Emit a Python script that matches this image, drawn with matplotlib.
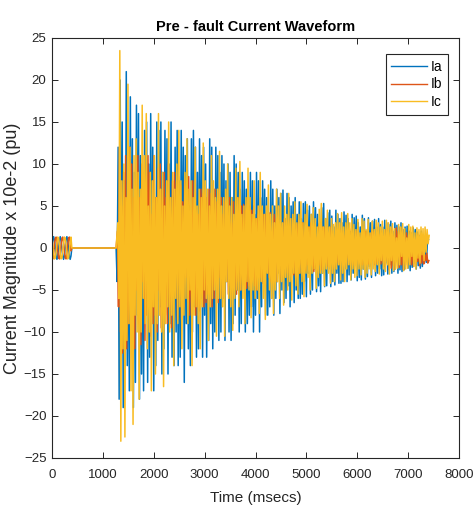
import numpy as np
import matplotlib
matplotlib.use("Agg")
import matplotlib.pyplot as plt

plt.rcParams['font.family'] = ['Liberation Sans', 'DejaVu Sans']

# ---- pre-fault steady state (0 - 390 ms), three phases ----
t_pre = [0, 16, 32, 48, 65, 81, 97, 113, 130, 146, 162, 178, 195,
         211, 227, 243, 260, 276, 292, 308, 325, 341, 357, 373, 390]
ia_pre = [0.0, 0.95, 1.35, 0.95, 0.0, -0.95, -1.35, -0.95, 0.0, 0.95, 1.35, 0.95, 0.0,
          -0.95, -1.35, -0.95, 0.0, 0.95, 1.35, 0.95, 0.0, -0.95, -1.35, -0.95, 0.0]
ib_pre = [-1.17, -1.3, -0.68, 0.35, 1.17, 1.3, 0.68, -0.35, -1.17, -1.3, -0.68, 0.35, 1.17,
          1.3, 0.68, -0.35, -1.17, -1.3, -0.68, 0.35, 1.17, 1.3, 0.68, -0.35, 0.0]
ic_pre = [1.17, 0.35, -0.68, -1.3, -1.17, -0.35, 0.68, 1.3, 1.17, 0.35, -0.68, -1.3, -1.17,
          -0.35, 0.68, 1.3, 1.17, 0.35, -0.68, -1.3, -1.17, -0.35, 0.68, 1.3, 0.0]

# ---- de-energised interval ----
t_gap = [1260]
gap_val = [0.0]

# ---- fault transient, one sample every 20 ms per phase ----
fault_step = 20
fault_start = {'Ia': 1280, 'Ib': 1287, 'Ic': 1293}

ia_fault = [
    -4, 12, -18, 20, -9, 15, -19, 8, -12, 21, -14, 6, -17, 18, -10, 13, -19, 9, -16, 17,
    -8, 16, -18, 11, -15, 7, -17, 14, -6, 15, -16, 10, -13, 16, -9, 12, -17, 6, -14, 15,
    -11, 14, -7, 15, -15, 9, -12, 14, -5, 13, -15, 10, -9, 15, -13, 6, -14, 12, -10, 14,
    -14, 8, -13, 14, -6, 12, -16, 11, -9, 13, -12, 5, -14, 13, -10, 14, -7, 12, -13, 9,
    -12, 13, -6, 11, -13, 12, -8, 10, -13, 5, -11, 13, -9, 12, -12, 7, -10, 12, -5, 11,
    -11, 9, -10, 11, -6, 10, -11, 8, -4, 10, -10, 9, -11, 6, -9, 11, -8, 10, -5, 9,
    -10, 7, -9, 9, -4, 8, -10, 7, -9, 5, -8, 9, -7, 8, -10, 4, -8, 9, -6, 8,
    -10, 6, -7, 8, -4, 7, -8, 6, -8, 3, -7, 8, -6, 7, -8, 5, -6, 7, -3, 6,
    -7.8, 6.5, -5, 6.9, -6.5, 3.5, -6, 6.5, -4.5, 6, -7, 5, -3, 5.5, -6.5, 6, -5, 4, -6, 5.5,
    -6, 3.5, -5.5, 5.3, -4, 5.5, -5.8, 4.5, -3, 5, -5.5, 4, -5, 5.5, -2.5, 4.8, -5.2, 4, -4.5, 3,
    -5.2, 4.8, -3, 5.3, -4.6, 3.5, -4.5, 4.2, -2.5, 4.5, -4.6, 3.8, -4, 2.5, -4.4, 4.5, -3, 4, -4.2, 3.5,
    -4.2, 3, -4, 4.3, -2.5, 3.9, -4, 3.5, -3.2, 2, -3.8, 4, -3, 3.6, -1.8, 3.8, -3.9, 3, -3.5, 2.5,
    -3.8, 3.9, -2.5, 3.5, -3.7, 2, -3.4, 3.6, -2.2, 3, -3.5, 3.2, -1.5, 3.4, -3.3, 2.5, -3, 3.5, -2.5, 2.8,
    -3.3, 2.5, -3.2, 3.3, -1.8, 3, -3.1, 2.8, -2, 3.2, -3, 2, -2.8, 3, -1.5, 2.7, -3, 2.5, -2.6, 3,
    -2.8, 2.2, -2.6, 2.5, -1.5, 2.6, -2.4, 2, -2.7, 1.8, -2.3, 2.4, -1.2, 2.2, -2.5, 1.9, -2.1, 1.5, -2.4, 2,
    -2.2, 1.5, -1.8, 1.2, -1.7, 0.8, 1.0,
]

ib_fault = [
    2, -7, 12, -10, 5, -12.5, 9, -6, 11, -12, 4, -9, 12, -8, 10, -11, 6, -12, 8, -5,
    11, -9, 6, -11.5, 10, -4, 9, -11, 7, -8, 11, -6, 9, -10.5, 4, -9, 11, -8, 6, -10,
    9.5, -5, 10, -9.5, 7, -4, 9, -8, 6, -9, 10, -7, 4, -9.5, 8, -6, 9, -3, 8, -8.5,
    8.5, -4.5, 7.5, -8.5, 5.5, -7, 8, -3.5, 7, -6.5, 8.5, -8, 4, -7.5, 8, -5, 6.5, -8, 3, -7,
    4, -7.5, 7, -5, 6.5, -7, 3, -6.5, 6, -5.5, 7, -3.5, 6.5, -7, 4.5, -6, 7, -2.5, 5.5, -6.5,
    6.5, -3.5, 6, -5.8, 4, -6, 5.5, -2.5, 5, -5.5, 6, -4.5, 3, -6, 5.5, -5, 2.5, -5.5, 6, -4,
    3.5, -5, 5, -4, 5.2, -2.5, 4.5, -4.8, 3, -4.5, 5, -3.5, 4.5, -2, 5, -4.5, 3.5, -5, 4, -2.5,
    4.5, -3.5, 2.5, -4.2, 4, -3, 4, -2, 3.8, -3.5, 4.2, -4, 2, -3.8, 4, -2.5, 3.5, -4, 3, -1.8,
    3, -3.8, 2, -3.5, 3.5, -1.5, 3.2, -3, 2.5, -3.3, 3.5, -2.5, 1.5, -3.2, 3, -3.5, 2.8, -1.8, 3.3, -3,
    3, -2, 3, -2.8, 1.5, -2.7, 2.8, -2, 2.5, -2.5, 3, -1.2, 2.6, -2.8, 2, -2.5, 1.2, -2.6, 2.8, -2,
    1.5, -2.6, 2.5, -2, 2.4, -1.2, 2.3, -2.2, 1.8, -2.3, 2.5, -1.5, 2, -2.4, 1, -2.2, 2.3, -1.8, 2.1, -2,
    2.2, -1, 2, -2.1, 1.5, -2, 2.2, -1.2, 2, -1.8, 2.3, -2, 0.8, -2.1, 2, -1.5, 2.2, -1.9, 1.2, -2,
    1.2, -2, 1.9, -1.5, 2, -1, 1.8, -1.9, 1.4, -1.6, 2.1, -1.2, 1.9, -2, 0.9, -1.8, 2, -1.5, 1.6, -1.9,
    2, -1.7, 1.2, -2.2, 2.1, -1.5, 2.3, -2.6, 1.8, -2.4, 2.2, -2.1, 1.5, -2.5, 2.4, -1.2, 2, -2.3, 1.9, -2,
    2.1, -2.6, 1.5, -2, 1.8, -1.2, 1.5, -1.8, 0.8, -2, 1.2, -2.2, 0.5, -1.9, 1, -1.6, 0.6, -2.1, 0.4, -1.8,
    0.5, -1.9, -0.8, -1.5, -0.6, -1.8, -1.5,
]

ic_fault = [
    3, -6, 23.5, -23, 8, -12, 10, -22.5, 6, -11, 19.5, -9, 12, -17, 7, -21, 11, -8, 13, -10,
    9, -18, 7, -10, 17, -6, 11, -9, 16, -12, 5, -10, 9, -17, 8, -7, 11, -15, 6, -9,
    16, -8, 7, -10, 9, -16.5, 5, -9, 8, -7, 15, -10, 6, -8, 9, -14, 7, -6, 10, -9,
    14, -7, 8, -12, 5, -8, 9, -6, 13, -9, 7, -5, 8, -14, 6, -8, 12, -7, 5, -9,
    7, -12, 6, -7, 12.5, -5, 8, -6, 7, -11, 5, -7, 11, -6, 8, -5, 6, -10.5, 7, -6,
    11.5, -6, 5, -7, 6, -10.5, 7, -4, 10, -6, 5, -7, 6, -9.8, 4, -6, 9.5, -5, 6, -7,
    10.3, -5, 4, -6, 5, -9, 6, -4, 9.5, -5, 6, -8.3, 4, -5, 8, -6, 3.5, -5, 5, -7.8,
    9, -4, 5, -6, 4, -8.5, 5, -3, 7.5, -5, 4, -6, 5, -7.8, 3, -5, 7, -4, 5, -6,
    6.5, -4, 3, -6.8, 5, -3.5, 4, -5, 6.5, -4, 3.5, -6.2, 4, -3, 5.5, -4.5, 3, -5.5, 4, -3,
    5.5, -4, 3, -5.8, 4, -3, 5.2, -3.5, 2.5, -5, 4, -3, 4.8, -2.5, 3.5, -4.8, 2.5, -3.5, 4.6, -3,
    5.3, -3, 2.5, -4.5, 3.5, -2.5, 4.5, -3, 2.5, -4.2, 3.5, -3, 2.8, -4, 3, -2.5, 4.1, -2, 3, -3.8,
    4.2, -3, 2.5, -4, 3, -2.5, 4.1, -2, 3, -3.8, 3.5, -2.5, 2.8, -3.5, 2.2, -3.3, 3.4, -2.5, 1.8, -3.2,
    3.5, -2.5, 3.2, -3.5, 2.2, -3, 3.4, -2.5, 1.8, -3.2, 3.2, -2.5, 2.2, -2.8, 3.3, -2, 3, -3.1, 2.5, -1.5,
    3.2, -2.5, 2.2, -2.8, 3.3, -2, 3, -3.1, 2.5, -1.5, 2.9, -2.7, 2.3, -2.5, 1.2, -2.4, 2.8, -2, 2.5, -1,
    2.9, -2.7, 2.3, -2.5, 1.2, -2.4, 2.8, -2, 2.5, -1, 2.6, -2.2, 1.8, -2.5, 2.4, -1.2, 2.2, -1.8, 2.5, -0.8,
    2.3, -1.5, 2.5, -0.5, 2.2, 0.5, 1.5,
]

labels = ['Ia', 'Ib', 'Ic']
colors = ['#0072BD', '#DE5519', '#F9BC22']
pre_vals = [ia_pre, ib_pre, ic_pre]
fault_vals = [ia_fault, ib_fault, ic_fault]

fig = plt.figure(figsize=(4.74, 5.07), dpi=100)
ax = fig.add_axes([52 / 474, 1 - 458 / 507, 407 / 474, 420 / 507])

for lab, c, pre, flt in zip(labels, colors, pre_vals, fault_vals):
    t_flt = fault_start[lab] + fault_step * np.arange(len(flt))
    t = np.concatenate([t_pre, t_gap, t_flt])
    y = np.concatenate([pre, gap_val, flt])
    ax.plot(t, y, color=c, lw=1.1, label=lab)

ax.set_xlim(0, 8000)
ax.set_ylim(-25, 25)
ax.set_xticks(np.arange(0, 8001, 1000))
ax.set_yticks(np.arange(-25, 26, 5))

axis_grey = '#262626'
for s in ax.spines.values():
    s.set_color(axis_grey)
    s.set_linewidth(0.8)
ax.tick_params(direction='in', top=True, right=True, length=4, width=0.7,
               colors=axis_grey, labelsize=9.5)
ax.tick_params(axis='x', pad=8)
ax.tick_params(axis='y', pad=4)

ax.set_title('Pre - fault Current Waveform', fontsize=10.5, fontweight='bold', pad=5)
ax.set_xlabel('Time (msecs)', fontsize=11, color=axis_grey, labelpad=7)
ax.set_ylabel('Current Magnitude x 10e-2 (pu)', fontsize=13, color=axis_grey)
ax.yaxis.set_label_coords(-0.075, 0.5)

leg = ax.legend(loc='upper right', bbox_to_anchor=((448 - 52) / 407, (458 - 54) / 420),
                borderaxespad=0, fancybox=False, framealpha=1, edgecolor=axis_grey,
                fontsize=10, handlelength=2.6, handletextpad=0.25, borderpad=0.4,
                labelspacing=0.28)
leg.get_frame().set_linewidth(0.8)
for h in leg.get_lines():
    h.set_linewidth(1.0)

fig.savefig('out.png', dpi=100)
